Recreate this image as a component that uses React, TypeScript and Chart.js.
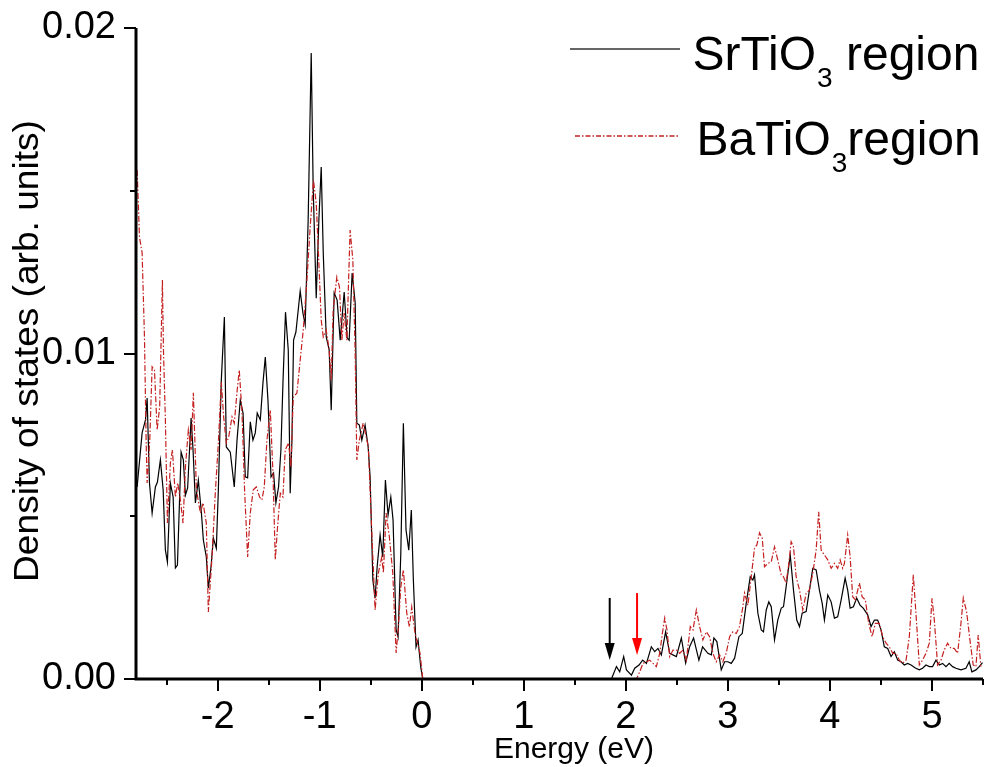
import React, { useEffect, useRef } from "react";
import { Chart, registerables } from "chart.js";

Chart.register(...registerables);

// ---- data (energy in eV, density of states in arb. units) ----
const srEnergy = [
  -2.789, -2.74, -2.707, -2.691, -2.668, -2.642, -2.61, -2.59, -2.561, -2.534, -2.512, -2.492, -2.463, -2.436,
  -2.414, -2.394, -2.358, -2.336, -2.316, -2.294, -2.26, -2.241, -2.218, -2.189, -2.159, -2.14, -2.111, -2.091,
  -2.065, -2.042, -2.013, -1.993, -1.964, -1.934, -1.915, -1.876, -1.837, -1.81, -1.778, -1.751, -1.729, -1.706,
  -1.68, -1.654, -1.631, -1.612, -1.582, -1.556, -1.533, -1.507, -1.477, -1.452, -1.429, -1.403, -1.38, -1.36,
  -1.335, -1.308, -1.289, -1.272, -1.256, -1.233, -1.191, -1.164, -1.142, -1.113, -1.083, -1.064, -1.034, -1.008,
  -0.985, -0.965, -0.936, -0.907, -0.887, -0.858, -0.829, -0.799, -0.76, -0.731, -0.711, -0.682, -0.652, -0.636,
  -0.611, -0.587, -0.555, -0.525, -0.506, -0.479, -0.457, -0.437, -0.408, -0.382, -0.356, -0.33, -0.303, -0.281,
  -0.251, -0.232, -0.205, -0.18, -0.154, -0.127, -0.102, -0.082, -0.056, -0.036, -0.01, 0.01, 0.5, 1.0, 1.5,
  1.859, 1.908, 1.94, 1.979, 2.006, 2.055, 2.087, 2.129, 2.165, 2.202, 2.25, 2.283, 2.315, 2.348, 2.39, 2.43,
  2.495, 2.544, 2.586, 2.625, 2.664, 2.716, 2.752, 2.804, 2.838, 2.863, 2.892, 2.935, 2.968, 3.0, 3.033, 3.066,
  3.108, 3.141, 3.18, 3.219, 3.245, 3.261, 3.294, 3.327, 3.349, 3.376, 3.401, 3.425, 3.457, 3.489, 3.523, 3.545,
  3.571, 3.611, 3.643, 3.675, 3.702, 3.728, 3.767, 3.799, 3.832, 3.865, 3.897, 3.924, 3.946, 3.979, 4.012, 4.044,
  4.076, 4.11, 4.149, 4.174, 4.198, 4.23, 4.262, 4.295, 4.328, 4.37, 4.403, 4.436, 4.468, 4.501, 4.533, 4.566,
  4.599, 4.631, 4.664, 4.697, 4.729, 4.761, 4.795, 4.837, 4.876, 4.908, 4.941, 4.974, 5.006, 5.039, 5.072, 5.104,
  5.137, 5.169, 5.202, 5.235, 5.284, 5.333, 5.365, 5.391, 5.431, 5.463, 5.495,
];
const srDos = [
  0.0059, 0.00756, 0.00796, 0.00863, 0.00602, 0.0051, 0.0059, 0.00605, 0.00673, 0.00581, 0.00396, 0.00359, 0.00602, 0.00559,
  0.00341, 0.0035, 0.00697, 0.00673, 0.00565, 0.00587, 0.00802, 0.00704, 0.00541, 0.00611, 0.0051, 0.00427, 0.00375, 0.0028,
  0.00344, 0.00433, 0.00402, 0.00581, 0.00919, 0.01112, 0.00713, 0.00697, 0.0059, 0.00734, 0.00857, 0.00817, 0.00621, 0.00618,
  0.0079, 0.00734, 0.00756, 0.00817, 0.00796, 0.00909, 0.00989, 0.00857, 0.00621, 0.00633, 0.00541, 0.0059, 0.00704, 0.00909,
  0.01127, 0.01011, 0.00571, 0.00734, 0.01041, 0.01066, 0.01192, 0.01124, 0.01088, 0.0141, 0.01923, 0.01512, 0.0117, 0.0141,
  0.01573, 0.01309, 0.01051, 0.01011, 0.00826, 0.01186, 0.01164, 0.01041, 0.01189, 0.01048, 0.01041, 0.01247, 0.01155, 0.00786,
  0.0078, 0.00734, 0.0078, 0.00713, 0.00621, 0.00304, 0.00249, 0.00344, 0.00442, 0.00375, 0.00611, 0.00504, 0.00559, 0.00488,
  0.00151, 0.00129, 0.00387, 0.00786, 0.00458, 0.00396, 0.00519, 0.00304, 0.00098, 0.0012, 0.00037, 0, 0, 0, 0,
  0, 0.00038, 0.00022, 0.00069, 0.00028, 0.00012, 0.00033, 0.00043, 0.00058, 0.00048, 0.00099, 0.00084, 0.00094, 0.00074, 0.00145, 0.00079,
  0.00069, 0.00126, 0.00049, 0.00099, 0.00126, 0.00058, 0.00099, 0.00079, 0.00074, 0.00126, 0.00115, 0.00028, 0.00053, 0.00053, 0.00048, 0.00064,
  0.0013, 0.0014, 0.00233, 0.00314, 0.00304, 0.0032, 0.00202, 0.00151, 0.00145, 0.00212, 0.00237, 0.00222, 0.0012, 0.00181, 0.00218, 0.00222,
  0.00284, 0.00381, 0.00273, 0.00181, 0.00161, 0.00202, 0.00207, 0.00273, 0.0034, 0.00335, 0.00273, 0.00233, 0.00181, 0.00258, 0.00237, 0.00187,
  0.00191, 0.00243, 0.0031, 0.00273, 0.00218, 0.00222, 0.00249, 0.00227, 0.00217, 0.00197, 0.00161, 0.00181, 0.00181, 0.00151, 0.00099, 0.00094,
  0.00069, 0.00084, 0.00058, 0.00053, 0.00043, 0.00048, 0.00043, 0.00034, 0.00028, 0.00033, 0.00043, 0.00038, 0.00038, 0.00058, 0.00043, 0.00048,
  0.00038, 0.00048, 0.00038, 0.00033, 0.00028, 0.00033, 0.00053, 0.00022, 0.00028, 0.00038, 0.0005,
];

const baEnergy = [
  -2.789, -2.766, -2.74, -2.717, -2.701, -2.691, -2.665, -2.642, -2.619, -2.593, -2.568, -2.541, -2.531, -2.512,
  -2.492, -2.463, -2.443, -2.414, -2.391, -2.365, -2.339, -2.316, -2.287, -2.26, -2.238, -2.208, -2.169, -2.143,
  -2.111, -2.091, -2.055, -2.023, -1.993, -1.964, -1.941, -1.915, -1.892, -1.859, -1.837, -1.81, -1.788, -1.761,
  -1.736, -1.706, -1.68, -1.651, -1.621, -1.589, -1.566, -1.543, -1.517, -1.484, -1.458, -1.435, -1.413, -1.386,
  -1.36, -1.338, -1.305, -1.282, -1.259, -1.223, -1.191, -1.161, -1.125, -1.093, -1.061, -1.034, -1.012, -0.985,
  -0.965, -0.936, -0.907, -0.887, -0.868, -0.832, -0.806, -0.783, -0.76, -0.734, -0.702, -0.675, -0.653, -0.636,
  -0.611, -0.574, -0.523, -0.489, -0.457, -0.425, -0.391, -0.376, -0.349, -0.317, -0.284, -0.251, -0.229, -0.205,
  -0.18, -0.147, -0.121, -0.098, -0.066, -0.043, -0.017, 0.01, 0.5, 1.0, 1.5, 2.0, 2.104, 2.136, 2.168, 2.202,
  2.234, 2.266, 2.299, 2.332, 2.358, 2.381, 2.403, 2.43, 2.462, 2.495, 2.527, 2.56, 2.593, 2.632, 2.658, 2.691,
  2.723, 2.755, 2.789, 2.821, 2.853, 2.886, 2.919, 2.951, 2.984, 3.017, 3.049, 3.082, 3.114, 3.147, 3.163, 3.196,
  3.229, 3.261, 3.284, 3.31, 3.337, 3.359, 3.391, 3.425, 3.457, 3.489, 3.523, 3.545, 3.571, 3.597, 3.62, 3.643,
  3.669, 3.702, 3.734, 3.767, 3.799, 3.832, 3.865, 3.89, 3.914, 3.946, 3.979, 4.012, 4.044, 4.076, 4.1, 4.125,
  4.142, 4.174, 4.198, 4.223, 4.25, 4.289, 4.315, 4.347, 4.38, 4.413, 4.445, 4.484, 4.517, 4.55, 4.582, 4.615,
  4.648, 4.68, 4.712, 4.746, 4.778, 4.817, 4.843, 4.876, 4.908, 4.941, 4.974, 5.0, 5.023, 5.055, 5.088, 5.12,
  5.153, 5.186, 5.218, 5.251, 5.284, 5.307, 5.339, 5.372, 5.404, 5.431, 5.453, 5.479,
];
const baDos = [
  0.01564, 0.01358, 0.01309, 0.01051, 0.00734, 0.00602, 0.00734, 0.00959, 0.00949, 0.00765, 0.00836, 0.01226, 0.01011, 0.00796,
  0.00479, 0.00664, 0.00704, 0.00559, 0.00602, 0.0055, 0.00479, 0.00651, 0.00765, 0.00704, 0.00879, 0.00581, 0.0051, 0.00541,
  0.00479, 0.00206, 0.00375, 0.00571, 0.00725, 0.00912, 0.00805, 0.00725, 0.00743, 0.00805, 0.00786, 0.00882, 0.00949, 0.00817,
  0.00581, 0.00375, 0.0051, 0.00581, 0.0059, 0.00559, 0.0055, 0.0059, 0.00734, 0.00826, 0.00633, 0.00366, 0.00467, 0.00571,
  0.00559, 0.00704, 0.00725, 0.00651, 0.00866, 0.00879, 0.0098, 0.01072, 0.01226, 0.01389, 0.01533, 0.01462, 0.01309, 0.01103,
  0.01051, 0.01072, 0.01011, 0.00919, 0.01134, 0.01235, 0.01204, 0.01041, 0.01124, 0.01041, 0.01379, 0.01287, 0.01011, 0.00673,
  0.00734, 0.00786, 0.00713, 0.00449, 0.00212, 0.00326, 0.00375, 0.00326, 0.0051, 0.00436, 0.00326, 0.0008, 0.0016, 0.00283,
  0.00335, 0.00203, 0.0016, 0.00221, 0.00141, 0.00111, 0.0008, 0, 0, 0, 0, 0, 0, 0.00022, 0.00048, 0.00053,
  0.00058, 0.00048, 0.00038, 0.00079, 0.0014, 0.00187, 0.00151, 0.00069, 0.00089, 0.00089, 0.00079, 0.00089, 0.00058, 0.00161, 0.00151, 0.00212,
  0.00161, 0.0012, 0.00145, 0.0013, 0.00079, 0.00053, 0.00074, 0.00053, 0.0008, 0.0013, 0.00145, 0.0014, 0.00161, 0.00222, 0.00264, 0.00227,
  0.00314, 0.00402, 0.00412, 0.00449, 0.00432, 0.00345, 0.00355, 0.0036, 0.00406, 0.00366, 0.0032, 0.00314, 0.00295, 0.00355, 0.00422, 0.00406,
  0.00314, 0.00273, 0.00212, 0.00263, 0.00273, 0.00325, 0.00396, 0.00514, 0.00396, 0.00381, 0.00366, 0.0034, 0.00355, 0.0034, 0.00366, 0.0034,
  0.00355, 0.00442, 0.00376, 0.00253, 0.00243, 0.00295, 0.00253, 0.00243, 0.00171, 0.0013, 0.00171, 0.00171, 0.0013, 0.0011, 0.00099, 0.00079,
  0.00079, 0.00058, 0.00048, 0.00058, 0.0013, 0.0032, 0.00202, 0.00043, 0.00058, 0.00079, 0.0011, 0.00248, 0.00181, 0.00043, 0.00058, 0.00089,
  0.0011, 0.00094, 0.00094, 0.00079, 0.00171, 0.00249, 0.00207, 0.0012, 0.00043, 0.00038, 0.00135, 0.00038,
];

const xTickValues = [-2, -1, 0, 1, 2, 3, 4, 5];
const xMinorValues = [-2.5, -1.5, -0.5, 0.5, 1.5, 2.5, 3.5, 4.5, 5.5];
const yTickValues = [0, 0.01, 0.02];
const yMinorValues = [0.005, 0.015];

// band-edge arrows: energy, top and tip (arb. units)
const arrowEnergy = [1.842, 2.11];
const arrowTop = [0.00249, 0.00264];
const arrowTip = [0.00058, 0.00074];
const arrowColors = ["#000000", "#ff0000"];

const seriesLabels = ["SrTiO", "BaTiO"];
const xTitle = "Energy (eV)";
const yTitle = "Density of states (arb. units)";

const RED = "rgb(196,32,32)";
const FONT = "'Liberation Sans', Arial, Helvetica, sans-serif";

const decorPlugin = {
  id: "decor",
  afterDraw(chart: any) {
    const ctx: CanvasRenderingContext2D = chart.ctx;
    const xs = chart.scales.x;
    const ys = chart.scales.y;
    const ca = chart.chartArea;
    ctx.save();
    // axes
    ctx.strokeStyle = "#000";
    ctx.lineWidth = 3;
    ctx.lineCap = "butt";
    ctx.beginPath();
    ctx.moveTo(ca.left, ca.top);
    ctx.lineTo(ca.left, ca.bottom);
    ctx.lineTo(ca.right, ca.bottom);
    ctx.stroke();
    // ticks
    ctx.lineWidth = 2;
    const tickX = (vals: number[], len: number) => {
      vals.forEach((v) => {
        const px = Math.round(xs.getPixelForValue(v));
        ctx.beginPath();
        ctx.moveTo(px, ca.bottom);
        ctx.lineTo(px, ca.bottom + len);
        ctx.stroke();
      });
    };
    const tickY = (vals: number[], len: number) => {
      vals.forEach((v) => {
        const py = Math.round(ys.getPixelForValue(v));
        ctx.beginPath();
        ctx.moveTo(ca.left, py);
        ctx.lineTo(ca.left - len, py);
        ctx.stroke();
      });
    };
    tickX(xTickValues, 12);
    tickX(xMinorValues, 6);
    tickY(yTickValues, 12);
    tickY(yMinorValues, 6);

    // arrows
    arrowEnergy.forEach((e, i) => {
      const px = xs.getPixelForValue(e);
      const top = ys.getPixelForValue(arrowTop[i]);
      const tip = ys.getPixelForValue(arrowTip[i]);
      const headLen = 17;
      const headHalf = 5;
      ctx.strokeStyle = arrowColors[i];
      ctx.fillStyle = arrowColors[i];
      ctx.lineWidth = 2;
      ctx.beginPath();
      ctx.moveTo(px, top);
      ctx.lineTo(px, tip - headLen + 2);
      ctx.stroke();
      ctx.beginPath();
      ctx.moveTo(px - headHalf, tip - headLen);
      ctx.lineTo(px + headHalf, tip - headLen);
      ctx.lineTo(px, tip);
      ctx.closePath();
      ctx.fill();
    });

    // axis titles
    ctx.fillStyle = "#000";
    ctx.font = `30px ${FONT}`;
    ctx.textAlign = "center";
    ctx.textBaseline = "alphabetic";
    ctx.fillText(xTitle, 574, 758);

    ctx.save();
    ctx.translate(37.5, 351);
    ctx.rotate(-Math.PI / 2);
    ctx.scale(1.06, 1);
    ctx.font = `35px ${FONT}`;
    ctx.textAlign = "center";
    ctx.fillText(yTitle, 0, 0);
    ctx.restore();

    // legend
    ctx.lineWidth = 1.5;
    ctx.strokeStyle = "#333";
    ctx.setLineDash([]);
    ctx.beginPath();
    ctx.moveTo(570, 49);
    ctx.lineTo(680, 49);
    ctx.stroke();
    ctx.strokeStyle = RED;
    ctx.lineWidth = 1.3;
    ctx.setLineDash([5, 2, 1.5, 2]);
    ctx.beginPath();
    ctx.moveTo(575, 136);
    ctx.lineTo(680, 136);
    ctx.stroke();
    ctx.setLineDash([]);

    ctx.textAlign = "left";
    ctx.fillStyle = "#000";
    const drawEntry = (main: string, x: number, base: number, tail: string) => {
      ctx.font = `48px ${FONT}`;
      ctx.fillText(main, x, base);
      let cx = x + ctx.measureText(main).width + 1;
      ctx.font = `28px ${FONT}`;
      ctx.fillText("3", cx, base + 17);
      cx += ctx.measureText("3").width;
      ctx.font = `48px ${FONT}`;
      ctx.fillText(tail, cx, base);
    };
    drawEntry(seriesLabels[0], 692.5, 70, " region");
    drawEntry(seriesLabels[1], 696.5, 155, "region");
    ctx.restore();
  },
};

export default function App() {
  const canvasRef = useRef<HTMLCanvasElement | null>(null);

  useEffect(() => {
    const canvas = canvasRef.current;
    if (!canvas) return;
    const srData = srEnergy.map((x, i) => ({ x, y: srDos[i] }));
    const baData = baEnergy.map((x, i) => ({ x, y: baDos[i] }));
    const chart = new Chart(canvas, {
      type: "scatter",
      data: {
        datasets: [
          {
            label: "BaTiO3 region",
            data: baData,
            showLine: true,
            borderColor: RED,
            backgroundColor: RED,
            borderWidth: 1.2,
            borderDash: [6, 2, 1.5, 2],
            pointRadius: 0,
            fill: false,
            tension: 0,
          },
          {
            label: "SrTiO3 region",
            data: srData,
            showLine: true,
            borderColor: "#000000",
            backgroundColor: "#000000",
            borderWidth: 1.2,
            pointRadius: 0,
            fill: false,
            tension: 0,
          },
        ],
      },
      options: {
        responsive: false,
        animation: false,
        layout: { padding: { top: 28, right: 9, left: 0, bottom: 0 } },
        plugins: { legend: { display: false }, tooltip: { enabled: false } },
        scales: {
          x: {
            type: "linear",
            min: -2.8,
            max: 5.5,
            grid: { display: false, drawTicks: false },
            border: { display: false },
            afterBuildTicks: (scale: any) => {
              scale.ticks = xTickValues.map((v) => ({ value: v }));
            },
            afterFit: (scale: any) => {
              scale.height = 88;
              scale.paddingLeft = 0;
              scale.paddingRight = 0;
            },
            ticks: {
              padding: 16,
              color: "#000",
              font: { family: FONT, size: 38 },
              maxRotation: 0,
              autoSkip: false,
              callback: (v: any) => String(v),
            },
          },
          y: {
            type: "linear",
            min: 0,
            max: 0.02,
            grid: { display: false, drawTicks: false },
            border: { display: false },
            afterBuildTicks: (scale: any) => {
              scale.ticks = yTickValues.map((v) => ({ value: v }));
            },
            afterFit: (scale: any) => {
              scale.width = 136;
              scale.paddingTop = 0;
              scale.paddingBottom = 0;
            },
            ticks: {
              padding: 20,
              color: "#000",
              font: { family: FONT, size: 38 },
              autoSkip: false,
              callback: (v: any) => Number(v).toFixed(2),
            },
          },
        },
      },
      plugins: [decorPlugin],
    });
    return () => chart.destroy();
  }, []);

  return (
    <div style={{ position: "absolute", left: 0, top: 0, width: 992, height: 767, background: "#fff" }}>
      <canvas ref={canvasRef} width={992} height={767} style={{ display: "block" }} />
    </div>
  );
}
